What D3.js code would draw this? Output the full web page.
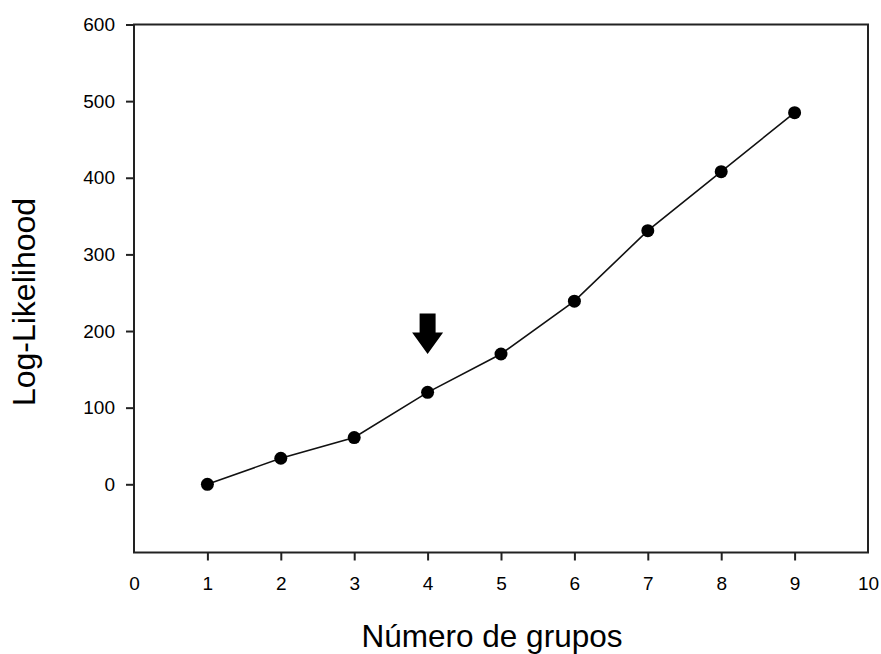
<!DOCTYPE html>
<html><head><meta charset="utf-8">
<script src="https://cdn.jsdelivr.net/npm/d3@7"></script>
<style>body{margin:0;background:#fff}svg{display:block}text{font-family:"Liberation Sans",Arial,sans-serif;fill:#000}</style>
</head><body>
<svg id="c" width="881" height="654"></svg>
<script>
const groups = [1,2,3,4,5,6,7,8,9];
const logLik = [0,34,61,120,170,239,331,408,485];
const xTickLabels = [0,1,2,3,4,5,6,7,8,9,10];
const yTickLabels = [0,100,200,300,400,500,600];
const arrowAt = {x:4, top:223, tip:170};

const svg = d3.select("#c");
const L=134, R=868, T=24.5, B=552.5;
const x = d3.scaleLinear().domain([0,10]).range([L,R]);
const y = d3.scaleLinear().domain([-89,600]).range([B,T]);

// frame
svg.append("rect").attr("x",L).attr("y",T).attr("width",R-L).attr("height",B-T)
  .attr("fill","none").attr("stroke","#222").attr("stroke-width",2);

// y axis
const ya = svg.append("g").attr("transform",`translate(${L},0)`)
  .call(d3.axisLeft(y).tickValues(yTickLabels).tickSize(8).tickPadding(11).tickFormat(d3.format("d")));
ya.attr("font-size",null).attr("font-family",null);
ya.select(".domain").remove();
ya.selectAll("line").attr("stroke","#222").attr("stroke-width",2);
ya.selectAll("text").style("font-size","19px");

// x axis
const xa = svg.append("g").attr("transform",`translate(0,${B})`)
  .call(d3.axisBottom(x).tickValues(xTickLabels).tickSize(8).tickPadding(16).tickFormat(d3.format("d")));
xa.attr("font-size",null).attr("font-family",null);
xa.select(".domain").remove();
xa.selectAll("line").attr("stroke","#222").attr("stroke-width",2)
  .attr("display",d=>(d===0||d===10)?"none":null);
xa.selectAll("text").style("font-size","19px");

// line
const data = groups.map((g,i)=>({g,v:logLik[i]}));
svg.append("path").datum(data)
  .attr("d",d3.line().x(d=>x(d.g)).y(d=>y(d.v)))
  .attr("fill","none").attr("stroke","#111").attr("stroke-width",1.6);
svg.selectAll("circle.pt").data(data).join("circle").attr("class","pt")
  .attr("cx",d=>x(d.g)).attr("cy",d=>y(d.v)).attr("r",6.5).attr("fill","#000");

// arrow
const ax = x(arrowAt.x), at = y(arrowAt.top), tip = y(arrowAt.tip);
const headTop = at + 19;
svg.append("path").attr("fill","#000")
  .attr("d",`M${ax-8},${at} L${ax+8},${at} L${ax+8},${headTop} L${ax+15.5},${headTop} L${ax},${tip} L${ax-15.5},${headTop} L${ax-8},${headTop} Z`);

// titles
svg.append("text").attr("x",492).attr("y",647).attr("text-anchor","middle")
  .style("font-size","31.5px").text("Número de grupos");
svg.append("text").attr("transform",`translate(35,302) rotate(-90)`).attr("text-anchor","middle")
  .style("font-size","32px").text("Log-Likelihood");
</script>
</body></html>
